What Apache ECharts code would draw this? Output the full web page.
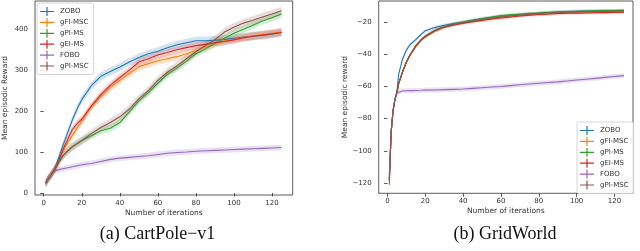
<!DOCTYPE html>
<html><head><meta charset="utf-8">
<script src="https://cdn.jsdelivr.net/npm/echarts@6/dist/echarts.min.js"></script>
<style>html,body{margin:0;padding:0;background:#fff}#c{width:640px;height:251px}</style>
</head><body><div id="c"></div>
<script>
// ---- data ----
const seriesNames = ['ZOBO', 'gFI-MSC', 'gPI-MS', 'gEI-MS', 'FOBO', 'gPI-MSC'];
const iterations = [1,2,3,4,5,6,8,10,12,15,18,20,25,30,35,40,45,50,55,60,65,70,75,80,85,90,95,100,105,110,115,120,125];

// (a) CartPole-v1
const cartZOBO   = [24,32,39,45,52,62,88,115,140,178,210,228,262,285,297,308,320,331,340,346,355,362,367,372,372,373,375,378,381,383,385,388,392];
const cartGFIMSC = [24,32,39,45,52,59,78,100,118,140,162,175,210,235,258,275,292,308,316,323,328,333,340,348,357,366,371,375,380,384,387,390,394];
const cartGPIMS  = [24,32,39,45,52,59,76,90,100,112,122,128,140,152,158,172,198,225,245,268,290,305,322,340,352,365,378,390,400,410,420,428,437];
const cartGEIMS  = [24,32,39,45,52,60,80,105,125,155,172,180,212,240,263,282,300,320,328,337,343,350,355,360,363,367,370,374,379,383,386,389,392];
const cartFOBO   = [24,32,39,45,52,54,57,59,61,64,67,69,72,77,82,85,87,89,91,94,97,99,100,102,103,104,105,106,107,108,109,110,111];
const cartGPIMSC = [24,32,39,45,52,59,76,90,100,113,122,128,145,160,172,186,205,230,250,275,295,310,328,345,360,375,393,405,415,422,430,437,445];
const cartErr = [10, 10, 9, 9, 7, 10];

// (b) GridWorld
const gridZOBO   = [-115,-88,-75,-68,-63,-52,-43,-37.5,-34,-31,-27.5,-25.5,-23.5,-22,-21,-20,-19,-18,-17.3,-16.6,-16,-15.5,-15,-14.6,-14.2,-13.9,-13.6,-13.4,-13.3,-13.2,-13.1,-13,-12.9];
const gridGFIMSC = [-118,-88,-75,-68,-64,-58,-51,-45,-40.5,-35,-31,-29,-25.5,-23,-21.5,-20.5,-19.5,-18.6,-17.8,-17,-16.4,-15.8,-15.2,-14.8,-14.5,-14.2,-14,-13.8,-13.7,-13.6,-13.5,-13.4,-13.3];
const gridGPIMS  = [-118,-88,-75,-68,-64,-58,-51,-45,-40.5,-35,-31,-29,-25.5,-23,-21.3,-20.2,-19,-18,-17,-16,-15.6,-15.2,-14.8,-14.5,-14.1,-13.8,-13.6,-13.5,-13.3,-13.1,-13,-12.9,-12.8];
const gridGEIMS  = [-118,-88,-75,-68,-64,-58,-51,-45,-40.5,-35,-31,-29,-25.5,-23.2,-21.8,-20.8,-19.8,-19,-18.2,-17.5,-16.9,-16.3,-15.8,-15.4,-15.1,-14.8,-14.6,-14.5,-14.4,-14.3,-14.2,-14.1,-14];
const gridFOBO   = [-118,-88,-75,-68,-64,-63,-62.8,-62.7,-62.6,-62.5,-62.4,-62.3,-62.2,-62,-61.8,-61.6,-61.2,-60.8,-60.4,-60,-59.5,-59,-58.5,-58,-57.6,-57.2,-56.6,-56,-55.5,-55,-54.4,-53.8,-53.3];
const gridGPIMSC = [-121,-88,-75,-68,-64,-58,-51,-45,-40.5,-35,-31,-29,-25.5,-23,-21.5,-20.4,-19.4,-18.5,-17.7,-16.9,-16.3,-15.7,-15.2,-14.8,-14.5,-14.2,-14,-13.8,-13.7,-13.6,-13.5,-13.4,-13.3];
const gridErr = [1, 1, 1, 1, 1.5, 1];

const cartTicksX = [0,20,40,60,80,100,120];
const cartTicksY = [0,100,200,300,400];
const gridTicksX = [0,20,40,60,80,100,120];
const gridTicksY = [-120,-100,-80,-60,-40,-20];

// ---- style ----
const colors = ['#1f77b4','#ff7f0e','#2ca02c','#d62728','#9467bd','#8c564b'];
const cartSeries = [cartZOBO, cartGFIMSC, cartGPIMS, cartGEIMS, cartFOBO, cartGPIMSC];
const gridSeries = [gridZOBO, gridGFIMSC, gridGPIMS, gridGEIMS, gridFOBO, gridGPIMSC];
const FONT = 'DejaVu Sans';
const TXT = '#333';

function band(color, ys, e, gi) {
  return {
    type: 'custom', name: '_band', xAxisIndex: gi, yAxisIndex: gi, silent: true, z: 1,
    data: iterations.map((x, i) => [x, ys[i]]),
    renderItem: (params, api) => {
      if (params.dataIndex !== 0) return null;
      const up = iterations.map((x, i) => api.coord([x, ys[i] + e]));
      const dn = iterations.map((x, i) => api.coord([x, ys[i] - e])).reverse();
      return { type: 'polygon', shape: { points: up.concat(dn) }, style: { fill: color, opacity: 0.2 } };
    }
  };
}
function line(name, color, ys, gi, k) {
  return {
    type: 'line', name, xAxisIndex: gi, yAxisIndex: gi, showSymbol: false, z: 2 + k * 0.01,
    data: iterations.map((x, i) => [x, ys[i]]),
    lineStyle: { color, width: 1.1 }, itemStyle: { color }
  };
}
const series = [];
[cartSeries, gridSeries].forEach((set, gi) => {
  const errs = gi === 0 ? cartErr : gridErr;
  set.forEach((ys, k) => {
    series.push(band(colors[k], ys, errs[k], gi));
    series.push(line(seriesNames[k], colors[k], ys, gi, k));
  });
});

const labelFor = ticks => v => ticks.some(t => Math.abs(t - v) < 1e-6) ? String(v).replace('-', '\u2212') : '';

function xAxis(gi, min, max, ticks) {
  return {
    type: 'value', gridIndex: gi, min, max,
    name: 'Number of iterations', nameLocation: 'middle', nameGap: 14, nameMoveOverlap: false,
    nameTextStyle: { fontSize: 7.5, color: TXT, fontFamily: FONT },
    axisLine: { show: false }, splitLine: { show: false },
    axisTick: { show: true, customValues: ticks, length: 3.5, lineStyle: { color: '#333', width: 0.8 } },
    axisLabel: { customValues: ticks, interval: 0, fontSize: 7, color: TXT, fontFamily: FONT, margin: 4.5, hideOverlap: false, formatter: labelFor(ticks) }
  };
}
function yAxis(gi, min, max, ticks, name, gap) {
  return {
    type: 'value', gridIndex: gi, min, max,
    name, nameLocation: 'middle', nameGap: gap, nameMoveOverlap: false,
    nameTextStyle: { fontSize: 7.5, color: TXT, fontFamily: FONT },
    axisLine: { show: false }, splitLine: { show: false },
    axisTick: { show: true, customValues: ticks, length: 3.5, lineStyle: { color: '#333', width: 0.8 } },
    axisLabel: { show: true, customValues: ticks, interval: 0, showMinLabel: true, showMaxLabel: true,
      fontSize: 7, color: TXT, fontFamily: FONT, margin: 7, hideOverlap: false, formatter: labelFor(ticks) }
  };
}
const plusIcon = 'path://M0,4.4L14,4.4L14,5.6L0,5.6Z M6.4,0.5L7.6,0.5L7.6,9.5L6.4,9.5Z';
function legend(left, top) {
  return {
    data: seriesNames.map(n => ({ name: n, icon: plusIcon })),
    left, top, orient: 'vertical', itemWidth: 14, itemHeight: 9, itemGap: 1.9,
    padding: [4, 5, 4, 3], selectedMode: false,
    textStyle: { fontSize: 7, color: TXT, fontFamily: FONT, padding: [0, 0, 0, 1] },
    backgroundColor: 'rgba(255,255,255,0.85)', borderColor: '#ccc', borderWidth: 0.8, borderRadius: 2
  };
}

const chart = echarts.init(document.getElementById('c'), null, { renderer: 'canvas' });
chart.setOption({
  animation: false,
  backgroundColor: '#fff',
  grid: [
    { left: 34, top: 1, width: 258.7, height: 194, show: true, borderColor: '#333', borderWidth: 0.8, backgroundColor: 'transparent' },
    { left: 378.7, top: 1, width: 254.3, height: 192.3, show: true, borderColor: '#333', borderWidth: 0.8, backgroundColor: 'transparent' }
  ],
  xAxis: [xAxis(0, -4.6, 130.9, cartTicksX), xAxis(1, -4.6, 129.8, gridTicksX)],
  yAxis: [yAxis(0, -5, 469, cartTicksY, 'Mean episodic Reward', 26), yAxis(1, -126.3, -7, gridTicksY, 'Mean episodic reward', 30)],
  legend: [legend(37, 3), legend(577, 122)],
  series,
  graphic: [
    { type: 'text', x: 157.5, y: 234, style: { text: '(a) CartPole\u2212v1', font: '18px "Liberation Serif"', fill: '#111', align: 'center', verticalAlign: 'middle', textAlign: 'center', textVerticalAlign: 'middle' } },
    { type: 'text', x: 505, y: 234, style: { text: '(b) GridWorld', font: '18px "Liberation Serif"', fill: '#111', align: 'center', verticalAlign: 'middle', textAlign: 'center', textVerticalAlign: 'middle' } }
  ]
});
</script></body></html>
